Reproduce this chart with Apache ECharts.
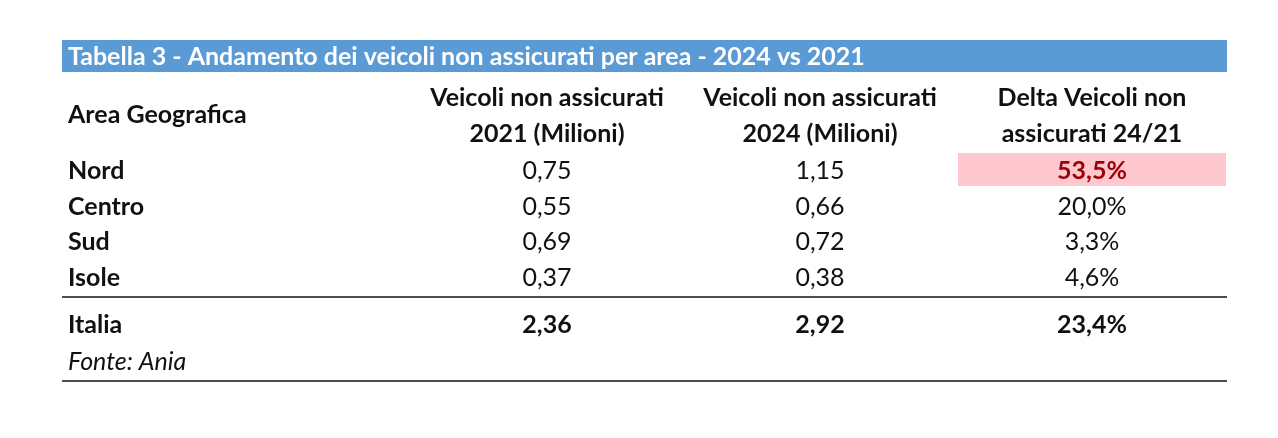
<!DOCTYPE html>
<html><head><meta charset="utf-8">
<script src="https://cdn.jsdelivr.net/npm/echarts@6/dist/echarts.min.js"></script>
<style>html,body{margin:0;background:#fff}#c{width:1278px;height:438px}</style>
</head><body><div id="c"></div>
<script>
var title = 'Tabella 3 - Andamento dei veicoli non assicurati per area - 2024 vs 2021';
var headers = [['Area Geografica'], ['Veicoli non assicurati', '2021 (Milioni)'], ['Veicoli non assicurati', '2024 (Milioni)'], ['Delta Veicoli non', 'assicurati 24/21']];
var areas = ['Nord', 'Centro', 'Sud', 'Isole'];
var v2021 = ['0,75', '0,55', '0,69', '0,37'];
var v2024 = ['1,15', '0,66', '0,72', '0,38'];
var delta = ['53,5%', '20,0%', '3,3%', '4,6%'];
var totale = ['Italia', '2,36', '2,92', '23,4%'];
var fonte = 'Fonte: Ania';

var chart = echarts.init(document.getElementById('c'));
var F = 'Lato, "Noto Sans", sans-serif';
var colX = [547, 820, 1092];
var rowY = [171, 207, 242, 278];
var g = [];
function txt(x, y, s, o) {
  o = o || {};
  g.push({type: 'text', x: x, y: y, style: {text: s, font: (o.italic ? 'italic ' : '') + (o.bold ? 'bold ' : '') + (o.size || 25) + 'px ' + F,
    fill: o.color || '#111', textAlign: o.align || 'center', textVerticalAlign: 'middle'}});
}
g.push({type: 'rect', shape: {x: 62, y: 40, width: 1165, height: 32}, style: {fill: '#5b9bd5'}});
txt(68, 57, title, {bold: true, color: '#fff', align: 'left', size: 25});
txt(68, 115, headers[0][0], {bold: true, align: 'left'});
for (var i = 1; i < 4; i++) {
  txt(colX[i - 1], 98, headers[i][0], {bold: true});
  txt(colX[i - 1], 134, headers[i][1], {bold: true});
}
g.push({type: 'rect', shape: {x: 958, y: 153, width: 268, height: 33}, style: {fill: '#ffc7ce'}});
areas.forEach(function (a, r) {
  txt(68, rowY[r], a, {bold: true, align: 'left'});
  txt(colX[0], rowY[r], v2021[r]);
  txt(colX[1], rowY[r], v2024[r]);
  txt(colX[2], rowY[r], delta[r], r === 0 ? {bold: true, color: '#9c0006'} : {});
});
g.push({type: 'line', shape: {x1: 62, y1: 297, x2: 1227, y2: 297}, style: {stroke: '#111', lineWidth: 1.5}});
txt(68, 325, totale[0], {bold: true, align: 'left'});
for (var j = 1; j < 4; j++) txt(colX[j - 1], 325, totale[j], {bold: true});
txt(68, 362, fonte, {italic: true, align: 'left'});
g.push({type: 'line', shape: {x1: 62, y1: 381, x2: 1227, y2: 381}, style: {stroke: '#111', lineWidth: 1.5}});
chart.setOption({graphic: g});
</script></body></html>
